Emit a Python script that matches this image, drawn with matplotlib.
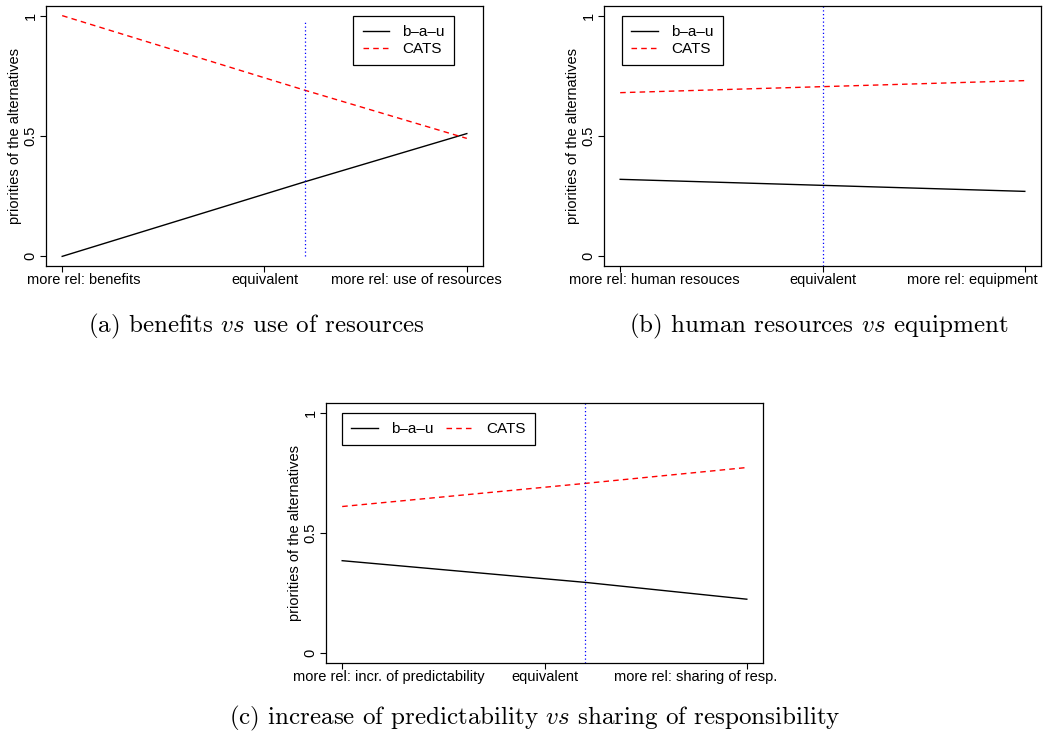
import matplotlib
matplotlib.use("Agg")
import matplotlib.pyplot as plt
from matplotlib import transforms

plt.rcParams['font.family'] = ['Liberation Sans', 'DejaVu Sans']
plt.rcParams['mathtext.fontset'] = 'cm'

# Data -------------------------------------------------------------
x_pos = [0.0, 0.6, 1.0]
a_bau = [0.0, 0.31, 0.51]
a_cats = [1.0, 0.69, 0.49]
a_eq = 0.6
a_ticks = ["more rel: benefits", "equivalent", "more rel: use of resources"]

b_x = [0.0, 0.5, 1.0]
b_bau = [0.32, 0.295, 0.27]
b_cats = [0.68, 0.705, 0.73]
b_eq = 0.5
b_ticks = ["more rel: human resouces", "equivalent", "more rel: equipment"]

c_bau = [0.385, 0.295, 0.225]
c_cats = [0.61, 0.706, 0.772]
c_eq = 0.6
c_ticks = ["more rel: incr. of predictability", "equivalent", "more rel: sharing of resp."]

tick_pos = [0.0, 0.5, 1.0]
y_ticks = [0.0, 0.5, 1.0]
y_ticklabels = ["0", "0.5", "1"]
series_labels = ["b\u2013a\u2013u", "CATS"]
ylabel = "priorities of the alternatives"
captions = [r"(a) benefits $vs$ use of resources",
            r"(b) human resources $vs$ equipment",
            r"(c) increase of predictability $vs$ sharing of responsibility"]

W, H = 1045, 738
AW, AH = 437, 260
FS = 10.5
fig = plt.figure(figsize=(W / 100, H / 100), dpi=100)


def make_ax(left, top):
    return fig.add_axes([left / W, 1 - (top + AH) / H, AW / W, AH / H])


def style(ax, ticklabels, end_px):
    ax.set_xlim(-0.04, 1.04)
    ax.set_ylim(-0.04, 1.04)
    ax.set_xticks(tick_pos)
    ax.set_xticklabels(["", "", ""])
    ax.set_yticks(y_ticks)
    ax.set_yticklabels(y_ticklabels, rotation=90, va="center")
    ax.tick_params(axis="both", direction="out", length=4, width=0.8,
                   labelsize=FS, pad=2, colors="black")
    ax.set_ylabel(ylabel, fontsize=FS, labelpad=1)
    for s in ax.spines.values():
        s.set_linewidth(0.9)
    # x tick labels (end labels anchored as in the reference)
    off = transforms.ScaledTranslation(0, -7 / 100, fig.dpi_scale_trans)
    tr = transforms.blended_transform_factory(ax.transData, ax.transAxes) + off
    tra = ax.transAxes + off
    ax.text(end_px[0] / AW, 0, ticklabels[0], transform=tra, ha="left", va="top", fontsize=FS)
    ax.text(tick_pos[1], 0, ticklabels[1], transform=tr, ha="center", va="top", fontsize=FS)
    ax.text(end_px[1] / AW, 0, ticklabels[2], transform=tra, ha="right", va="top", fontsize=FS)


def draw(ax, xs, bau, cats, eq, ymax=None):
    ax.plot(xs, bau, color="black", lw=1.0, label=series_labels[0])
    ax.plot(xs, cats, color="red", lw=1.0, ls=(0, (4, 3)), label=series_labels[1])
    if ymax is None:
        ax.axvline(eq, color="blue", lw=0.9, ls=(0, (1, 2)))
    else:
        ax.vlines(eq, 0, ymax, color="blue", lw=0.9, ls=(0, (1, 2)))


leg_kw = dict(fontsize=11, fancybox=False, edgecolor="black", framealpha=1,
              handlelength=1.75, handletextpad=0.85, borderpad=0.6,
              labelspacing=0.2, borderaxespad=0, columnspacing=0.85)

# (a)
ax_a = make_ax(46, 6)
draw(ax_a, x_pos, a_bau, a_cats, a_eq, ymax=0.98)
style(ax_a, a_ticks, (-19, 456))
leg = ax_a.legend(loc="upper right", bbox_to_anchor=((454 - 46) / AW, 1 - 10 / AH), **leg_kw)
leg.get_frame().set_linewidth(0.9)

# (b)
ax_b = make_ax(604, 6)
draw(ax_b, b_x, b_bau, b_cats, b_eq)
style(ax_b, b_ticks, (-35, 434))
leg = ax_b.legend(loc="upper left", bbox_to_anchor=(18 / AW, 1 - 10 / AH), **leg_kw)
leg.get_frame().set_linewidth(0.9)

# (c)
ax_c = make_ax(326, 403)
draw(ax_c, x_pos, c_bau, c_cats, c_eq)
style(ax_c, c_ticks, (-33, 451))
leg = ax_c.legend(loc="upper left", bbox_to_anchor=(16 / AW, 1 - 10 / AH), ncol=2, **leg_kw)
leg.get_frame().set_linewidth(0.9)

cap_kw = dict(ha="center", va="center", fontsize=18, family="cmr10")
fig.text(256 / W, 1 - 326 / H, captions[0], **cap_kw)
fig.text(819 / W, 1 - 326 / H, captions[1], **cap_kw)
fig.text(535 / W, 1 - 718 / H, captions[2], **cap_kw)

fig.savefig("out.png", dpi=100)
